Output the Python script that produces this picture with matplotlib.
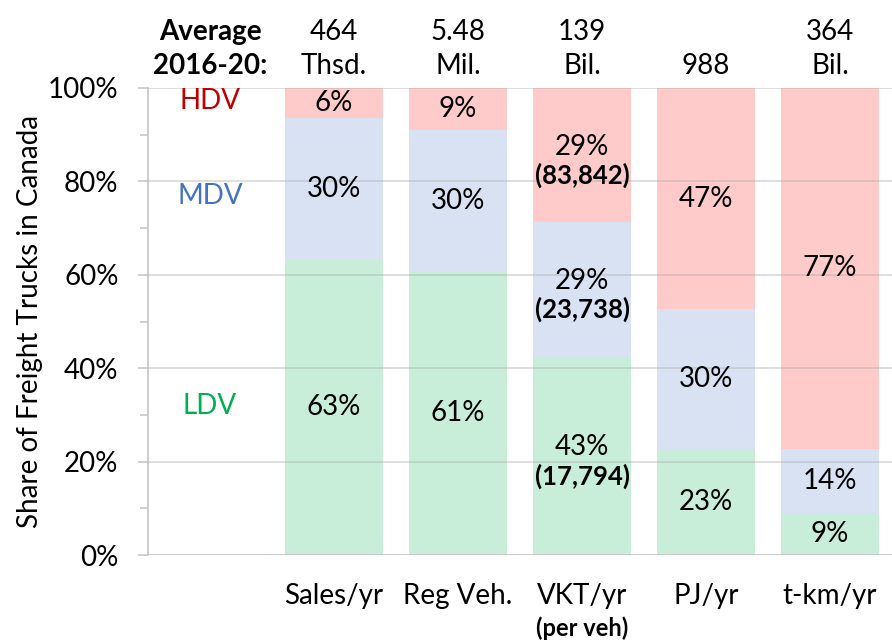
import matplotlib
matplotlib.use('Agg')
import matplotlib.pyplot as plt
from matplotlib.ticker import MultipleLocator, FuncFormatter

plt.rcParams['font.family'] = ['Lato', 'DejaVu Sans']

# data (shares in %)
categories = ['', 'Sales/yr', 'Reg Veh.', 'VKT/yr', 'PJ/yr', 't-km/yr']
ldv = [0, 63.2, 60.7, 42.5, 22.7, 8.9]
mdv = [0, 30.4, 30.3, 28.8, 29.9, 13.8]
hdv = [0, 6.4, 9.0, 28.7, 47.4, 77.3]
ldv_labels = ['', '63%', '61%', '43%', '23%', '9%']
mdv_labels = ['', '30%', '30%', '29%', '30%', '14%']
hdv_labels = ['', '6%', '9%', '29%', '47%', '77%']
vkt_per_veh = ['(17,794)', '(23,738)', '(83,842)']  # LDV, MDV, HDV
averages = ['', '464\nThsd.', '5.48\nMil.', '139\nBil.', '988', '364\nBil.']

c_ldv, c_mdv, c_hdv = '#C8EED9', '#D9E2F3', '#FFCACA'

fig = plt.figure(figsize=(8.92, 6.42), dpi=100)
ax = fig.add_axes([148 / 892, 87 / 642, 1 - 148 / 892, 467 / 642])

x = list(range(len(categories)))
w = 0.79
bot2 = [a + b for a, b in zip(ldv, mdv)]
ax.bar(x, ldv, w, color=c_ldv, zorder=2)
ax.bar(x, mdv, w, bottom=ldv, color=c_mdv, zorder=2)
ax.bar(x, hdv, w, bottom=bot2, color=c_hdv, zorder=2)

ax.set_xlim(-0.5, 5.5)
ax.set_ylim(0, 100)

# gridlines drawn over the bars, like the original
for g in [20, 40, 60, 80, 100]:
    ax.axhline(g, color='#a8a8a8', lw=1.3, alpha=0.4, zorder=3)
ax.axhline(0, color='#c8c8c8', lw=1.3, zorder=3)

fs = 20
bfs = 18.5
for i in x[1:]:
    if categories[i] == 'VKT/yr':
        segs = [(ldv[i] / 2, ldv_labels[i], vkt_per_veh[0]),
                (ldv[i] + mdv[i] / 2, mdv_labels[i], vkt_per_veh[1]),
                (bot2[i] + hdv[i] / 2, hdv_labels[i], vkt_per_veh[2])]
        for y, pct, vv in segs:
            ax.text(i, y - 1.0, pct, ha='center', va='bottom', fontsize=fs, zorder=4)
            ax.text(i, y - 1.6, vv, ha='center', va='top', fontsize=bfs,
                    fontweight='bold', zorder=4)
    else:
        ax.text(i, ldv[i] / 2, ldv_labels[i], ha='center', va='center', fontsize=fs, zorder=4)
        ax.text(i, ldv[i] + mdv[i] / 2, mdv_labels[i], ha='center', va='center', fontsize=fs, zorder=4)
        ax.text(i, bot2[i] + hdv[i] / 2, hdv_labels[i], ha='center', va='center', fontsize=fs, zorder=4)

# class labels in the empty first column
ax.text(0, 97.3, 'HDV', ha='center', va='center', fontsize=fs, color='#C00000')
ax.text(0, 76.8, 'MDV', ha='center', va='center', fontsize=fs, color='#4472C4')
ax.text(0, 32.0, 'LDV', ha='center', va='center', fontsize=fs, color='#00B050')

# averages above the plot
ax.text(0, 102.0, 'Average\n2016-20:', ha='center', va='bottom', fontsize=fs,
        fontweight='bold', linespacing=1.35)
for i in x[1:]:
    ax.text(i, 102.0, averages[i], ha='center', va='bottom', fontsize=fs, linespacing=1.35)

# category labels below
ax.set_xticks(x)
ax.set_xticklabels(categories, fontsize=fs)
ax.tick_params(axis='x', length=0, pad=20)
ax.text(3, -13.2, '(per veh)', ha='center', va='top', fontsize=17, fontweight='bold')

ax.yaxis.set_major_locator(MultipleLocator(20))
ax.yaxis.set_minor_locator(MultipleLocator(10))
ax.yaxis.set_major_formatter(FuncFormatter(lambda v, p: f'{v:.0f}%'))
ax.tick_params(axis='y', which='major', labelsize=fs, length=7.2, width=1.2,
               color='#c8c8c8', pad=14)
ax.tick_params(axis='y', which='minor', length=5.8, width=1.2, color='#c8c8c8')
ax.set_ylabel('Share of Freight Trucks in Canada', fontsize=fs, labelpad=3.5)

for s in ['top', 'right', 'bottom']:
    ax.spines[s].set_visible(False)
ax.spines['left'].set_color('#c8c8c8')
ax.spines['left'].set_linewidth(1.3)

fig.savefig('out.png', dpi=100)
